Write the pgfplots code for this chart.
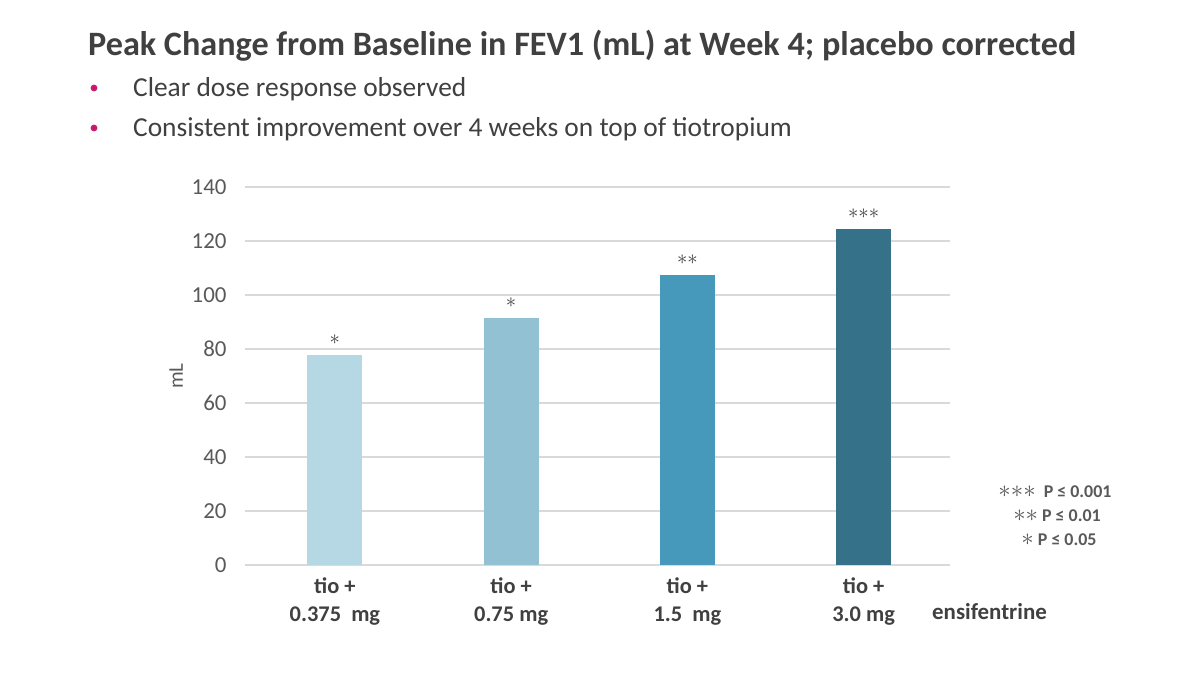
\documentclass[border=0pt]{standalone}
\usepackage{pgfplots}
\pgfplotsset{compat=1.18}
\usepackage{fontspec}
\setmainfont{Carlito}

\definecolor{titlegray}{HTML}{404040}
\definecolor{tickgray}{HTML}{595959}
\definecolor{gridgray}{HTML}{D9D9D9}
\definecolor{bulletpink}{HTML}{C8196E}
\definecolor{barA}{HTML}{B6D7E4}
\definecolor{barB}{HTML}{92C1D4}
\definecolor{barC}{HTML}{4699BA}
\definecolor{barD}{HTML}{357289}

% larger asterisks for the significance key
\newcommand{\keystars}[1]{{\fontsize{23}{20}\selectfont$#1$}}

\begin{document}
\begin{tikzpicture}[x=1bp,y=1bp]
% page frame, y measured upwards from the bottom (673 high)
\useasboundingbox (0,0) rectangle (1188,673);
\fill[white] (0,0) rectangle (1188,673);

\node[anchor=base west, inner sep=0, text=titlegray,
      font=\fontsize{34.3}{38}\selectfont\bfseries] at (88,617) {Peak Change from Baseline in FEV1 (mL) at Week 4; placebo corrected};
\fill[bulletpink] (94,585) circle (3.4);
\fill[bulletpink] (94,545) circle (3.4);
\node[anchor=base west, inner sep=0, text=titlegray,
      font=\fontsize{27.5}{30}\selectfont] at (133,576) {Clear dose response observed};
\node[anchor=base west, inner sep=0, text=titlegray,
      font=\fontsize{27.5}{30}\selectfont] at (133,536) {Consistent improvement over 4 weeks on top of tiotropium};

\begin{axis}[
    at={(245bp,108bp)}, anchor=south west,
    scale only axis, width=705bp, height=378bp,
    ymin=0, ymax=140, ytick={0,20,...,140},
    xmin=-0.51, xmax=3.49,
    xtick={0,1,2,3},
    xticklabels={{tio +\\0.375~~mg},{tio +\\0.75 mg},{tio +\\1.5~~mg},{tio +\\3.0 mg}},
    xticklabel style={align=center, font=\fontsize{22.5}{28}\selectfont\bfseries, text=titlegray, yshift=-9bp},
    yticklabel style={font=\fontsize{23}{24}\selectfont, text=tickgray, xshift=-15bp},
    /pgf/number format/assume math mode=true,
    ylabel={mL}, ylabel style={font=\fontsize{21}{22}\selectfont, text=tickgray, yshift=2bp},
    major tick length=0pt,
    axis x line*=bottom, axis y line*=left,
    x axis line style={draw=gridgray, line width=1.2bp},
    y axis line style={draw=none},
    ymajorgrids, grid style={draw=gridgray, line width=1.2bp},
    ybar, bar width=55bp, bar shift=0pt,
    nodes near coords style={font=\fontsize{22}{22}\selectfont, text=titlegray, yshift=7bp},
]
\addplot[fill=barA, draw=none, nodes near coords={$\ast$}] coordinates {(0,77.8)};
\addplot[fill=barB, draw=none, nodes near coords={$\ast$}] coordinates {(1,91.5)};
\addplot[fill=barC, draw=none, nodes near coords={${\ast}{\ast}$}] coordinates {(2,107.4)};
\addplot[fill=barD, draw=none, nodes near coords={${\ast}{\ast}{\ast}$}] coordinates {(3,124.3)};
\end{axis}

\node[anchor=base west, inner sep=0, text=titlegray,
      font=\fontsize{23}{26}\selectfont\bfseries] at (932,53) {ensifentrine};
\node[anchor=base, inner sep=0, text=tickgray,
      font=\fontsize{18}{20}\selectfont\bfseries] at (1055,175) {\keystars{{\ast}{\ast}{\ast}}~~P ≤ 0.001};
\node[anchor=base, inner sep=0, text=tickgray,
      font=\fontsize{18}{20}\selectfont\bfseries] at (1057,151) {\keystars{{\ast}{\ast}} P ≤ 0.01};
\node[anchor=base, inner sep=0, text=tickgray,
      font=\fontsize{18}{20}\selectfont\bfseries] at (1059,127) {\keystars{\ast} P ≤ 0.05};
\end{tikzpicture}
\end{document}
